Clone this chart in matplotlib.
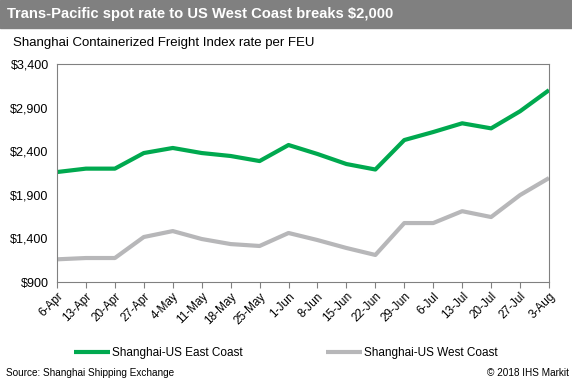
import matplotlib.pyplot as plt
from matplotlib.ticker import FuncFormatter

plt.rcParams['font.family'] = ['Liberation Sans', 'DejaVu Sans']

dates = ["6-Apr", "13-Apr", "20-Apr", "27-Apr", "4-May", "11-May", "18-May", "25-May",
         "1-Jun", "8-Jun", "15-Jun", "22-Jun", "29-Jun", "6-Jul", "13-Jul", "20-Jul",
         "27-Jul", "3-Aug"]
east_coast = [2161, 2200, 2200, 2379, 2437, 2379, 2345, 2287, 2471, 2368, 2253, 2190,
              2528, 2620, 2720, 2662, 2858, 3100]
west_coast = [1160, 1175, 1175, 1416, 1484, 1393, 1335, 1313, 1462, 1381, 1290, 1210,
              1576, 1576, 1712, 1645, 1897, 2092]

fig = plt.figure(figsize=(5.72, 3.87), dpi=100)

# title band
fig.patches.append(plt.Rectangle((0, 1 - 28 / 387), 1, 28 / 387, transform=fig.transFigure,
                                 color="#808080", zorder=0))
fig.text(0.013, 1 - 14 / 387, "Trans-Pacific spot rate to US West Coast breaks $2,000",
         color="white", fontsize=10.6, fontweight="bold", va="center")
fig.text(0.022, 1 - 43 / 387, "Shanghai Containerized Freight Index rate per FEU",
         fontsize=9.5, va="center")

ax = fig.add_axes([57 / 572, 1 - 282 / 387, (549 - 57) / 572, (282 - 64) / 387])
x = range(len(dates))
ax.plot(x, east_coast, color="#00A94F", lw=3, label="Shanghai-US East Coast", solid_capstyle="butt")
ax.plot(x, west_coast, color="#B7B7B9", lw=3, label="Shanghai-US West Coast", solid_capstyle="butt")

ax.set_xlim(0, len(dates) - 1)
ax.set_ylim(900, 3400)
ax.set_yticks(range(900, 3401, 500))
ax.yaxis.set_major_formatter(FuncFormatter(lambda v, p: f"${v:,.0f}"))
ax.set_xticks(list(x))
ax.set_xticklabels(dates, rotation=45, ha="right", rotation_mode="anchor")
ax.tick_params(axis="y", length=0, labelsize=9, pad=6)
ax.tick_params(axis="x", length=4, color="#808080", labelsize=8.5, pad=2)
for s in ax.spines.values():
    s.set_color("#808080")
    s.set_linewidth(0.8)

fig.legend(loc="center", bbox_to_anchor=(0.5, 1 - 353 / 387), ncol=2, frameon=False,
           fontsize=8.5, handlelength=3, columnspacing=7.1, handletextpad=0.2)

fig.text(0.01, 1 - 373 / 387, "Source: Shanghai Shipping Exchange", fontsize=7.2, va="center")
fig.text(0.995, 1 - 373 / 387, "\u00a9 2018 IHS Markit", fontsize=7.2, va="center", ha="right")

fig.savefig("out.png", dpi=100)
